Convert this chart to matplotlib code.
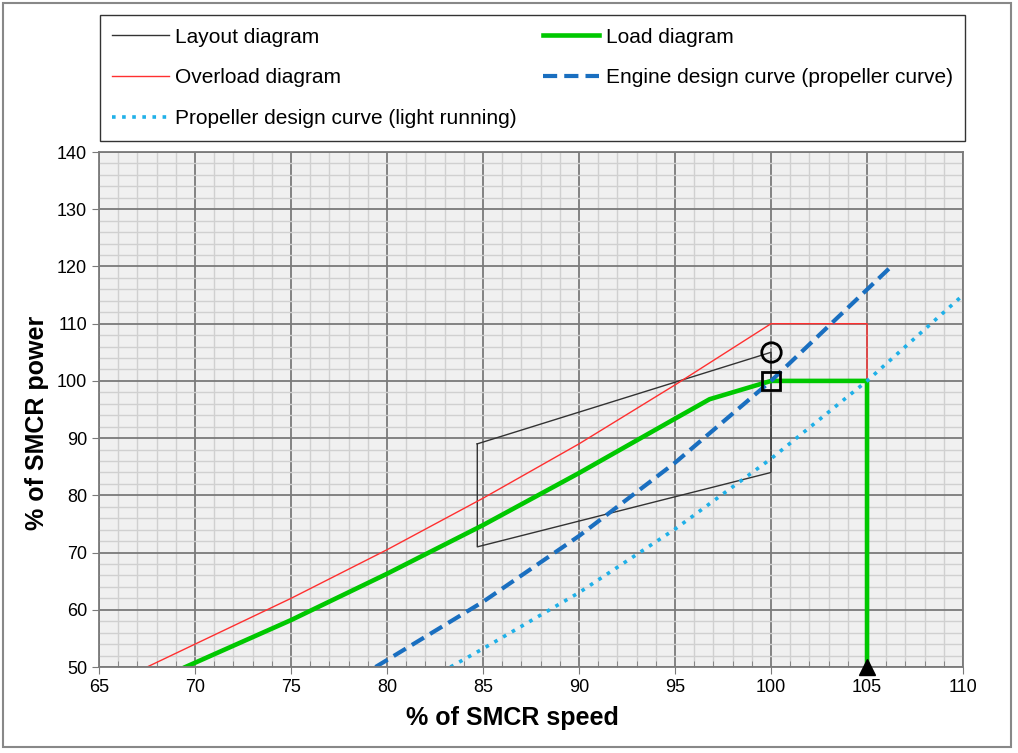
import matplotlib
matplotlib.use("Agg")
import matplotlib.pyplot as plt
from matplotlib.patches import Rectangle
from matplotlib.ticker import MultipleLocator

plt.rcParams['font.family'] = ['Liberation Sans', 'DejaVu Sans']

# layout diagram (closed polygon)
layout_speed = [84.7, 100, 100, 84.7, 84.7]
layout_power = [89, 105, 84, 71, 89]

# overload diagram
overload_speed = [67.5, 70, 75, 80, 85, 90, 95, 100, 105, 105]
overload_power = [50, 54, 62, 70.5, 79.5, 89, 99.3, 110, 110, 100]

# load diagram
load_speed = [69.5, 75, 80, 85, 90, 95, 96.8, 100, 105, 105]
load_power = [50, 58.2, 66.3, 74.8, 83.9, 93.4, 96.8, 100, 100, 50]

# engine design curve (propeller curve)
engine_speed = [79.4, 85, 90, 95, 100, 106.2]
engine_power = [50, 61.4, 72.9, 85.7, 100, 119.8]

# propeller design curve (light running)
light_speed = [83.3, 85, 90, 95, 100, 105, 110]
light_power = [50, 53.2, 63, 74.1, 86.4, 100, 115]

fig = plt.figure(figsize=(10.18, 7.53), dpi=100)
ax = fig.add_axes([0.0973, 0.1142, 0.8487, 0.6839])
ax.set_facecolor('#f0f0f0')

l_layout, = ax.plot(layout_speed, layout_power, color='#333333', lw=1.0, label='Layout diagram')
l_over, = ax.plot(overload_speed, overload_power, color='#ff3030', lw=1.0, label='Overload diagram')
l_load, = ax.plot(load_speed, load_power, color='#00c800', lw=3.3, label='Load diagram')
l_eng, = ax.plot(engine_speed, engine_power, color='#1a6fc0', lw=3.0,
                 dashes=(3.4, 1.7), label='Engine design curve (propeller curve)')
l_light, = ax.plot(light_speed, light_power, color='#1fb0e8', lw=2.6,
                   dashes=(1, 1.8), label='Propeller design curve (light running)')

ax.plot([100], [105], 'o', ms=14, mfc='none', mec='black', mew=2)
ax.plot([100], [100], 's', ms=13, mfc='none', mec='black', mew=2)
ax.plot([105], [50], '^', ms=12, color='black', clip_on=False, zorder=5)

ax.set_xlim(65, 110)
ax.set_ylim(50, 140)
ax.xaxis.set_major_locator(MultipleLocator(5))
ax.xaxis.set_minor_locator(MultipleLocator(1))
ax.yaxis.set_major_locator(MultipleLocator(10))
ax.yaxis.set_minor_locator(MultipleLocator(2))
ax.grid(which='major', color='#7a7a7a', lw=1.3)
ax.grid(which='minor', color='#d0d0d0', lw=1.0)
ax.set_axisbelow(True)
for s in ax.spines.values():
    s.set_color('#7a7a7a')
    s.set_linewidth(1.3)
ax.tick_params(which='major', length=5, color='#7a7a7a', labelsize=13)
ax.tick_params(axis='x', which='minor', direction='in', length=4, color='#7a7a7a')
ax.tick_params(axis='y', which='minor', length=0)

ax.set_xlabel('% of SMCR speed', fontsize=18, fontweight='bold')
ax.set_ylabel('% of SMCR power', fontsize=18, fontweight='bold')
ax.xaxis.set_label_coords(0.479, -0.076)
ax.yaxis.set_label_coords(-0.058, 0.474)

leg = fig.legend(handles=[l_layout, l_over, l_light, l_load, l_eng], ncol=2,
                 loc='upper left', bbox_to_anchor=(0.098, 0.821, 0.85, 0.159),
                 mode='expand', fontsize=15, frameon=True, fancybox=False,
                 edgecolor='black', handlelength=2.7, handletextpad=0.3,
                 labelspacing=1.05, borderaxespad=0, borderpad=0.6)
leg.get_frame().set_linewidth(1.0)

fig.patches.append(Rectangle((3 / 1018, 1 - 747 / 753), 1008 / 1018, 744 / 753,
                             transform=fig.transFigure, fill=False,
                             edgecolor='#888888', lw=1.5))

fig.savefig('out.png', dpi=100)
